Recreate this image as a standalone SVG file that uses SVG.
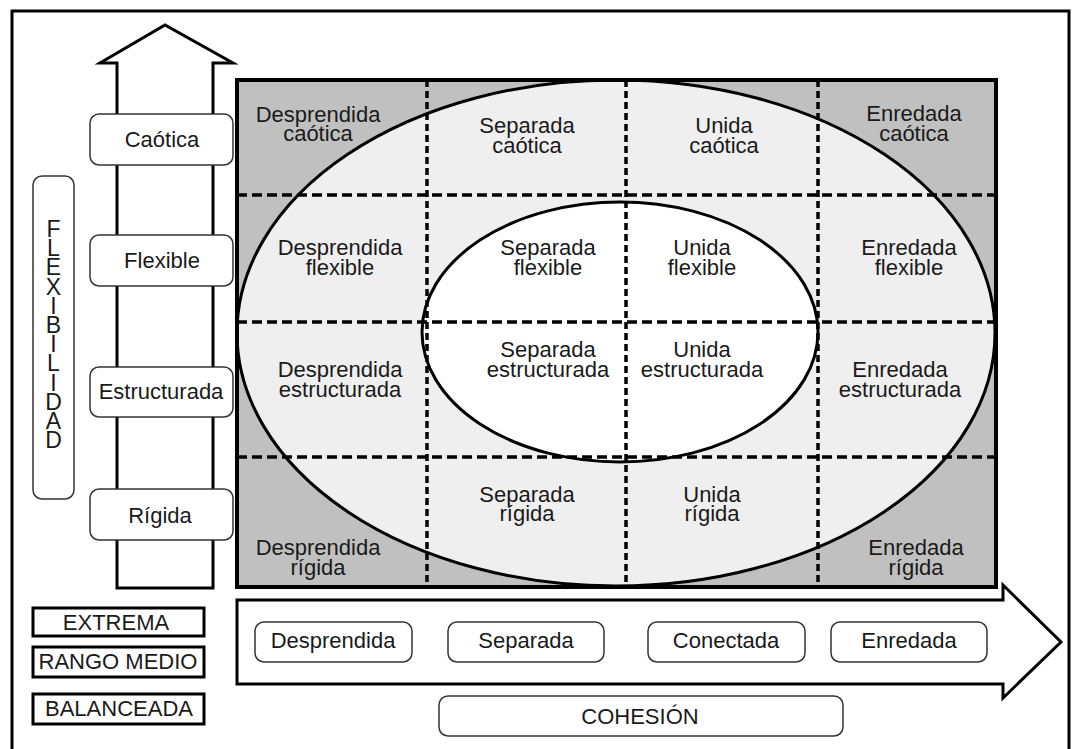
<svg xmlns="http://www.w3.org/2000/svg" width="1072" height="749" viewBox="0 0 1072 749">
<style>
text{font-family:"Liberation Sans",Arial,sans-serif;font-size:22px;fill:#1a1a1a;text-anchor:middle}
.lbl{fill:#fff;stroke:#333;stroke-width:1.5}
.sq{fill:#fff;stroke:#000;stroke-width:3}
.dh{stroke:#000;stroke-width:3.5;stroke-dasharray:10 5;fill:none}
.dv{stroke:#000;stroke-width:3.5;stroke-dasharray:7 4;fill:none}
.big{font-size:23px}
</style>
<rect x="0" y="0" width="1072" height="749" fill="#fff"/>
<rect x="12" y="11" width="1057" height="760" fill="none" stroke="#000" stroke-width="3"/>

<g id="flex-arrow">
<polygon points="117,588 117,63 100,63 165,25 233,63 213,63 213,588" fill="#fff" stroke="#000" stroke-width="3" stroke-linejoin="miter"/>
</g>
<g id="cohesion-arrow">
<polygon points="237,600 1003,600 1003,585 1061,642 1003,698 1003,684 237,684" fill="#fff" stroke="#000" stroke-width="3"/>
</g>

<g id="grid">
<rect x="237" y="80" width="759" height="507" fill="#c0c0c0"/>
<ellipse cx="616" cy="333" rx="379" ry="253" fill="#efefef" stroke="#000" stroke-width="3"/>
<ellipse cx="620" cy="332" rx="198" ry="130" fill="#fff" stroke="#000" stroke-width="3"/>
<g id="connectors">
<line class="dh" x1="237" y1="195" x2="996" y2="195"/>
<line class="dh" x1="237" y1="322" x2="996" y2="322"/>
<line class="dh" x1="237" y1="457" x2="996" y2="457"/>
<line class="dv" x1="427" y1="80" x2="427" y2="587"/>
<line class="dv" x1="626" y1="80" x2="626" y2="587"/>
<line class="dv" x1="818" y1="80" x2="818" y2="587"/>
</g>
<rect x="237" y="80" width="759" height="507" fill="none" stroke="#000" stroke-width="4"/>
</g>

<g id="cell-desprendida-caotica"><text x="318" y="122">Desprendida</text><text x="318" y="141">caótica</text></g>
<g id="cell-separada-caotica"><text x="527" y="133">Separada</text><text x="527" y="153">caótica</text></g>
<g id="cell-unida-caotica"><text x="724" y="133">Unida</text><text x="724" y="153">caótica</text></g>
<g id="cell-enredada-caotica"><text x="914" y="121">Enredada</text><text x="914" y="141">caótica</text></g>

<g id="cell-desprendida-flexible"><text x="340" y="255">Desprendida</text><text x="340" y="275">flexible</text></g>
<g id="cell-separada-flexible"><text x="548" y="255">Separada</text><text x="548" y="275">flexible</text></g>
<g id="cell-unida-flexible"><text x="702" y="255">Unida</text><text x="702" y="275">flexible</text></g>
<g id="cell-enredada-flexible"><text x="909" y="255">Enredada</text><text x="909" y="275">flexible</text></g>

<g id="cell-desprendida-estructurada"><text x="340" y="377">Desprendida</text><text x="340" y="397">estructurada</text></g>
<g id="cell-separada-estructurada"><text x="548" y="357">Separada</text><text x="548" y="377">estructurada</text></g>
<g id="cell-unida-estructurada"><text x="702" y="357">Unida</text><text x="702" y="377">estructurada</text></g>
<g id="cell-enredada-estructurada"><text x="900" y="377">Enredada</text><text x="900" y="397">estructurada</text></g>

<g id="cell-desprendida-rigida"><text x="318" y="555">Desprendida</text><text x="318" y="575">rígida</text></g>
<g id="cell-separada-rigida"><text x="527" y="502">Separada</text><text x="527" y="521">rígida</text></g>
<g id="cell-unida-rigida"><text x="712" y="502">Unida</text><text x="712" y="521">rígida</text></g>
<g id="cell-enredada-rigida"><text x="916" y="555">Enredada</text><text x="916" y="575">rígida</text></g>

<g id="lbl-caotica"><rect class="lbl" x="90" y="114" width="143" height="51" rx="9"/><text x="162" y="147">Caótica</text></g>
<g id="lbl-flexible"><rect class="lbl" x="90" y="235" width="143" height="51" rx="9"/><text x="162" y="268">Flexible</text></g>
<g id="lbl-estructurada"><rect class="lbl" x="90" y="367" width="143" height="50" rx="9"/><text x="161" y="399">Estructurada</text></g>
<g id="lbl-rigida"><rect class="lbl" x="90" y="489" width="143" height="51" rx="9"/><text x="160" y="523">Rígida</text></g>

<g id="lbl-flexibilidad"><rect class="lbl" x="33" y="176" width="41" height="323" rx="9"/>
<text class="big" x="53.5" y="237">F</text>
<text class="big" x="53.5" y="256">L</text>
<text class="big" x="53.5" y="275">E</text>
<text class="big" x="53.5" y="295">X</text>
<text class="big" x="53.5" y="314">I</text>
<text class="big" x="53.5" y="333">B</text>
<text class="big" x="53.5" y="352">I</text>
<text class="big" x="53.5" y="371">L</text>
<text class="big" x="53.5" y="391">I</text>
<text class="big" x="53.5" y="410">D</text>
<text class="big" x="53.5" y="429">A</text>
<text class="big" x="53.5" y="448">D</text>
</g>

<g id="lbl-desprendida"><rect class="lbl" x="255" y="622" width="157" height="40" rx="9"/><text x="333" y="648">Desprendida</text></g>
<g id="lbl-separada"><rect class="lbl" x="448" y="622" width="156" height="40" rx="9"/><text x="526" y="648">Separada</text></g>
<g id="lbl-conectada"><rect class="lbl" x="648" y="622" width="157" height="40" rx="9"/><text x="726" y="648">Conectada</text></g>
<g id="lbl-enredada"><rect class="lbl" x="831" y="622" width="156" height="40" rx="9"/><text x="909" y="648">Enredada</text></g>
<g id="lbl-cohesion"><rect class="lbl" x="439" y="696" width="404" height="40" rx="9"/><text x="640" y="724">COHESIÓN</text></g>

<g id="legend-extrema"><rect class="sq" x="33" y="608" width="171" height="28"/><text x="116" y="630">EXTREMA</text></g>
<g id="legend-rango"><rect class="sq" x="33" y="647" width="171" height="30"/><text x="118" y="669">RANGO MEDIO</text></g>
<g id="legend-balanceada"><rect class="sq" x="33" y="694" width="171" height="30"/><text x="119" y="716">BALANCEADA</text></g>
</svg>
